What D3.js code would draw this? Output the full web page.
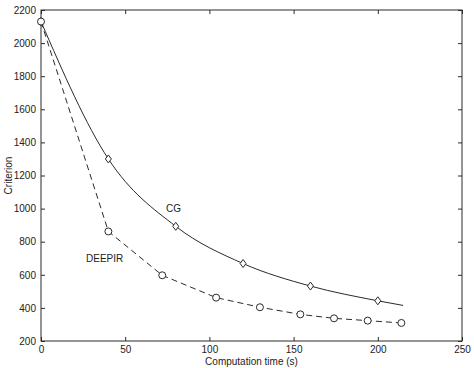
<!DOCTYPE html>
<html>
<head>
<meta charset="utf-8">
<script src="https://cdn.jsdelivr.net/npm/d3@7"></script>
<style>
  body { margin: 0; background: #fff; }
  svg { display: block; font-family: "Liberation Sans", Arial, sans-serif; }
</style>
</head>
<body>
<svg id="chart" width="474" height="368"></svg>
<script>
// CG run (solid line, diamonds)
let cgTime = [0, 40, 80, 120, 160, 200, 215]
let cgCrit = [2130, 1300, 893, 668, 532, 443, 415]
let cgMarked = [true, true, true, true, true, true, false]

// DEEPIR run (dashed line, circles)
let deTime = [0, 40, 72, 104, 130, 154, 174, 194, 214]
let deCrit = [2130, 862, 597, 462, 404, 361, 337, 323, 309]

let xTicks = [0, 50, 100, 150, 200, 250]
let yTicks = [200, 400, 600, 800, 1000, 1200, 1400, 1600, 1800, 2000, 2200]

let svg = d3.select("#chart")
let mLeft = 41, mRight = 462, mTop = 10, mBottom = 341

let x = d3.scaleLinear().domain([0, 250]).range([mLeft, mRight])
let y = d3.scaleLinear().domain([200, 2200]).range([mBottom, mTop])

let ink = "#2a2a2a"

// frame
svg.append("rect")
    .attr("x", mLeft).attr("y", mTop)
    .attr("width", mRight - mLeft).attr("height", mBottom - mTop)
    .attr("fill", "none").attr("stroke", ink).attr("stroke-width", 1)

let tl = 4
let fmt = d3.format("d")
let drawAxis = (axis, tx, ty, labels) => {
    let g = svg.append("g").attr("transform", "translate(" + tx + "," + ty + ")").call(axis)
    g.select(".domain").remove()
    g.selectAll("line").attr("stroke", ink)
    g.selectAll("text")
        .attr("fill", "#222")
        .style("font-size", "10px")
    if (!labels) g.selectAll("text").remove()
    return g
}

drawAxis(d3.axisBottom(x).tickValues(xTicks).tickFormat(fmt).tickSize(-tl).tickPadding(5), 0, mBottom, true)
drawAxis(d3.axisTop(x).tickValues(xTicks).tickSize(-tl), 0, mTop, false)
drawAxis(d3.axisLeft(y).tickValues(yTicks).tickFormat(fmt).tickSize(-tl).tickPadding(5), mLeft, 0, true)
drawAxis(d3.axisRight(y).tickValues(yTicks).tickSize(-tl), mRight, 0, false)

// CG curve
let cgData = cgTime.map((t, i) => ({ t: t, c: cgCrit[i], m: cgMarked[i] }))
let cgLine = d3.line().x(d => x(d.t)).y(d => y(d.c)).curve(d3.curveMonotoneX)
svg.append("path")
    .attr("d", cgLine(cgData))
    .attr("fill", "none").attr("stroke", ink).attr("stroke-width", 1)

// DEEPIR curve
let deData = deTime.map((t, i) => ({ t: t, c: deCrit[i] }))
let deLine = d3.line().x(d => x(d.t)).y(d => y(d.c))
svg.append("path")
    .attr("d", deLine(deData))
    .attr("fill", "none").attr("stroke", ink).attr("stroke-width", 1)
    .attr("stroke-dasharray", "6,4")

// markers
svg.selectAll(".dia").data(cgData.filter(d => d.m))
    .enter()
    .append("path")
    .attr("class", "dia")
    .attr("d", "M0,-4L3,0L0,4L-3,0Z")
    .attr("transform", d => "translate(" + x(d.t) + "," + y(d.c) + ")")
    .attr("fill", "#fff").attr("stroke", ink).attr("stroke-width", 1)

svg.selectAll(".circ").data(deData)
    .enter()
    .append("circle")
    .attr("class", "circ")
    .attr("cx", d => x(d.t)).attr("cy", d => y(d.c))
    .attr("r", 3.5)
    .attr("fill", "#fff").attr("stroke", ink).attr("stroke-width", 1)

// labels
svg.append("text").text("CG")
    .attr("x", 166).attr("y", 212)
    .style("font-size", "10px").attr("fill", "#222")
svg.append("text").text("DEEPIR")
    .attr("x", 86).attr("y", 262)
    .style("font-size", "10px").attr("fill", "#222")

svg.append("text").text("Computation time (s)")
    .attr("x", (mLeft + mRight) / 2).attr("y", 365)
    .attr("text-anchor", "middle")
    .style("font-size", "10px").attr("fill", "#222")

svg.append("text").text("Criterion")
    .attr("transform", "translate(12," + ((mTop + mBottom) / 2) + ") rotate(-90)")
    .attr("text-anchor", "middle")
    .style("font-size", "10px").attr("fill", "#222")
</script>
</body>
</html>
